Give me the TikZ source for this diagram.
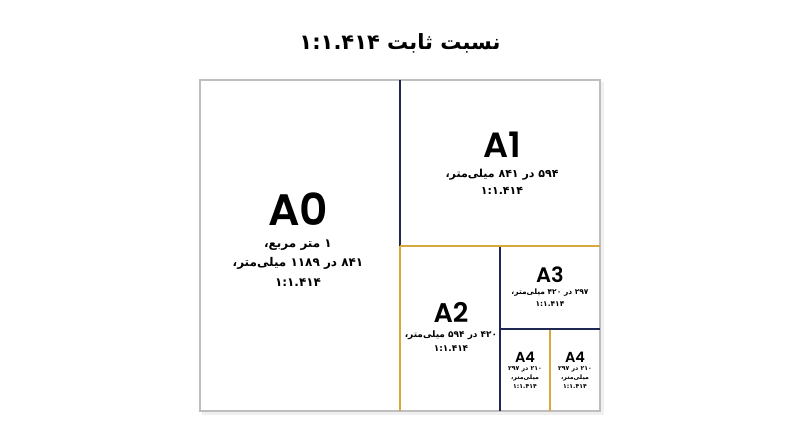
\documentclass[tikz,border=0pt]{standalone}
\usepackage{fontspec}
\usepackage{tikz}
\usetikzlibrary{positioning}
\TeXXeTstate=1
\newfontfamily\farsifont[Script=Arabic]{DejaVu Sans}
\newfontfamily\sheetfont[UprightFont=* SemiBold]{Poppins}
\definecolor{navy}{HTML}{1E2852}
\definecolor{gold}{HTML}{D6A83E}
\definecolor{edge}{HTML}{BEBEBE}

\begin{document}
\begin{tikzpicture}[x=1pt, y=-1pt,
	cut/.style={line width=1.8pt},
	sheetname/.style={inner sep=0pt, font=\sheetfont\fontsize{#1}{#1}\selectfont},
	sheetinfo/.style 2 args={inner sep=0pt, align=center, font=\farsifont\bfseries\fontsize{#1}{#2}\selectfont}]
	\useasboundingbox (0,0) rectangle (800,447);
	
	\node[inner sep=0pt, font=\farsifont\bfseries\fontsize{21}{21}\selectfont] (title) at (400,43) {\beginR نسبت ثابت ۱:۱.۴۱۴\endR};
	
	\coordinate (nw) at (200,80);
	\coordinate (se) at (600,411);
	\fill[black!6] (202,82) rectangle (604,415);
	\filldraw[fill=white, draw=edge, line width=1.5pt] (nw) rectangle (se);
	
	\coordinate (m1) at (400,80);
	\coordinate (m2) at (400,246);
	\coordinate (m3) at (400,411);
	\coordinate (r1) at (600,246);
	\coordinate (h1) at (500,246);
	\coordinate (h2) at (500,411);
	\coordinate (q1) at (500,329);
	\coordinate (q2) at (600,329);
	\coordinate (g1) at (550,329);
	\coordinate (g2) at (550,411);
	
	\draw[cut, navy] (m1) -- (m2);
	\draw[cut, navy] (h1) -- (h2);
	\draw[cut, gold] (g1) -- (g2);
	\draw[cut, navy] (q1) -- (q2);
	\draw[cut, gold] (m2) -- (m3);
	\draw[cut, gold] (m2) -- (r1);
	
	\node[sheetname=44] (a0) at (298,209) {A0};
	\node[sheetinfo={12}{19.5}, below=14pt of a0] (a0info) {\beginR ۱ متر مربع،\endR\\\beginR ۸۴۱ در ۱۱۸۹ میلی‌متر،\endR\\\beginR ۱:۱.۴۱۴\endR};
	
	\node[sheetname=35] (a1) at (502,145) {A1};
	\node[sheetinfo={11}{17}, below=11pt of a1] (a1info) {\beginR ۵۹۴ در ۸۴۱ میلی‌متر،\endR\\\beginR ۱:۱.۴۱۴\endR};
	
	\node[sheetname=27] (a2) at (451,312) {A2};
	\node[sheetinfo={9}{14}, below=8pt of a2] (a2info) {\beginR ۴۲۰ در ۵۹۴ میلی‌متر،\endR\\\beginR ۱:۱.۴۱۴\endR};
	
	\node[sheetname=21] (a3) at (550,275) {A3};
	\node[sheetinfo={7.5}{12}, below=6pt of a3] (a3info) {\beginR ۲۹۷ در ۴۲۰ میلی‌متر،\endR\\\beginR ۱:۱.۴۱۴\endR};
	
	\node[sheetname=14.5] (a4l) at (525,357) {A4};
	\node[sheetinfo={6.2}{9}, below=4pt of a4l] (a4linfo) {\beginR ۲۱۰ در ۲۹۷\endR\\\beginR میلی‌متر،\endR\\\beginR ۱:۱.۴۱۴\endR};
	
	\node[sheetname=14.5] (a4r) at (575,357) {A4};
	\node[sheetinfo={6.2}{9}, below=4pt of a4r] (a4rinfo) {\beginR ۲۱۰ در ۲۹۷\endR\\\beginR میلی‌متر،\endR\\\beginR ۱:۱.۴۱۴\endR};
\end{tikzpicture}
\end{document}
